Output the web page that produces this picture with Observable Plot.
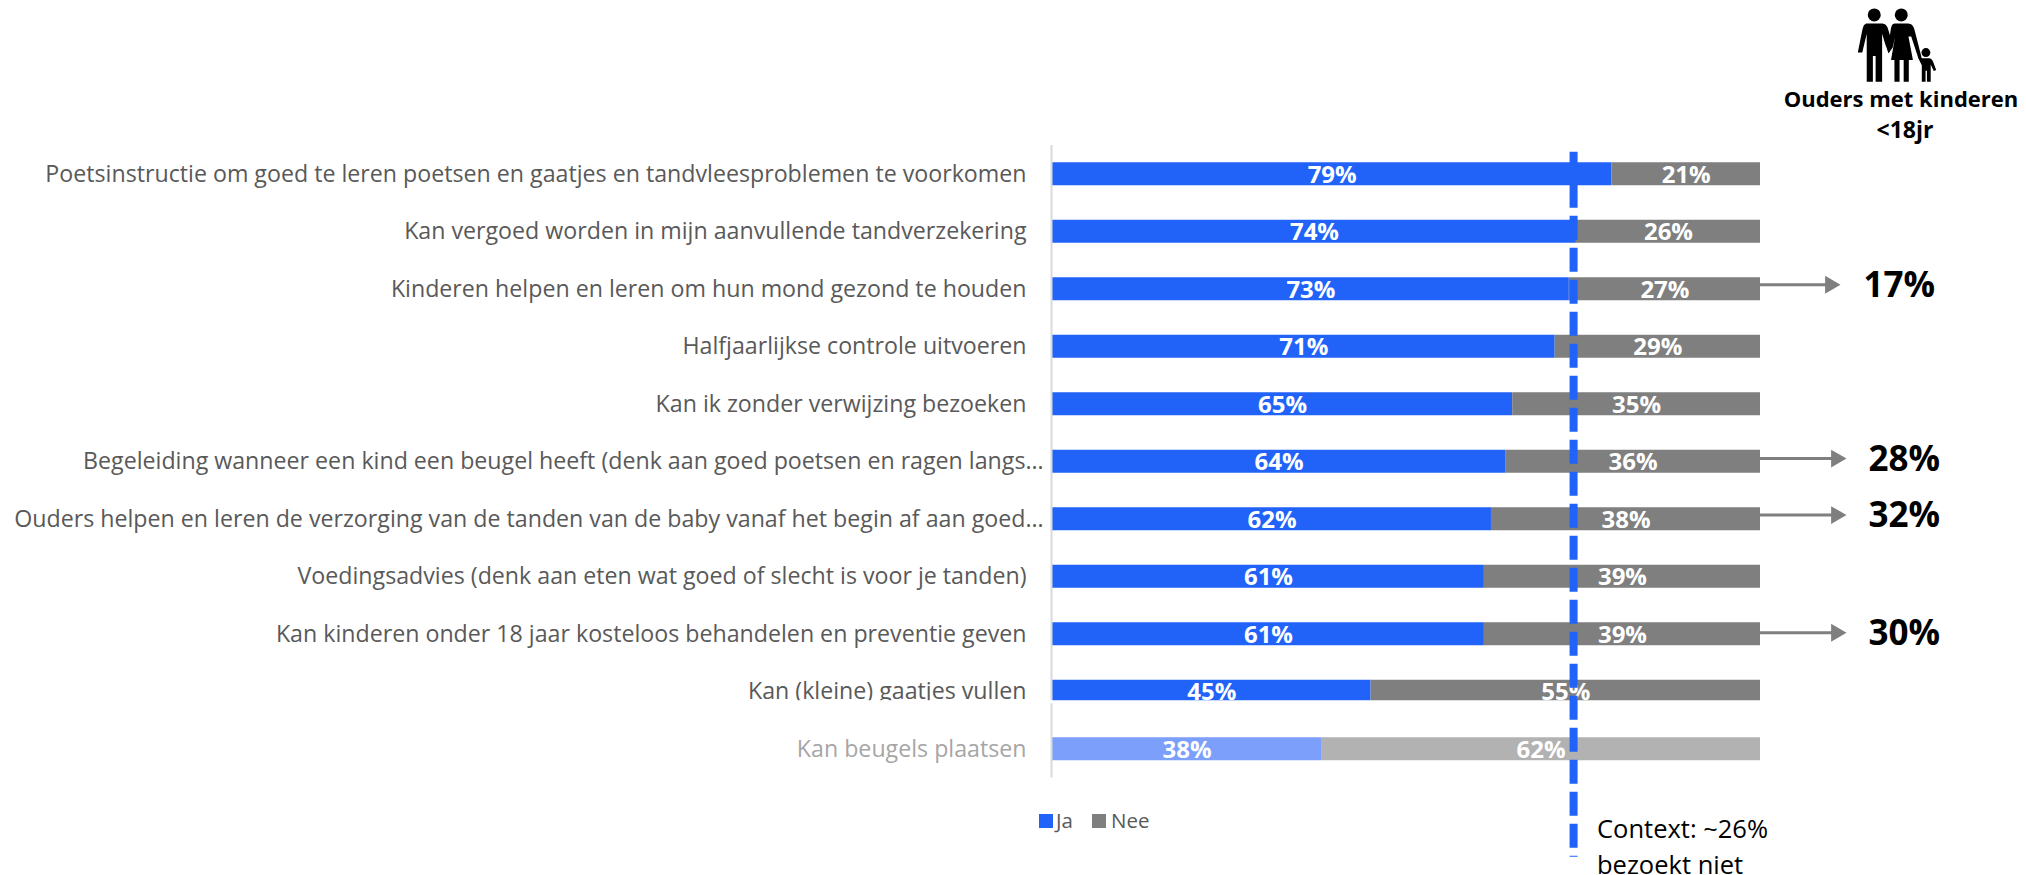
<!DOCTYPE html>
<html lang="nl">
<head>
<meta charset="utf-8">
<script src="https://cdn.jsdelivr.net/npm/d3@7"></script>
<script src="https://cdn.jsdelivr.net/npm/@observablehq/plot@0.6"></script>
<style>
  html, body { margin: 0; padding: 0; background: #fff; }
  #page { position: relative; width: 2026px; height: 875px; overflow: hidden; font-family: "Open Sans", sans-serif; }
  #chart { position: absolute; left: 0; top: 0; }
  .note { position: absolute; white-space: nowrap; }
  .head { font-weight: 700; font-size: 22px; color: #000; text-align: center; transform: translate(-50%, -50%); }
  .legend { font-size: 20.5px; color: #595959; transform: translateY(-50%); }
  .swatch { position: absolute; width: 14px; height: 14px; }
  .context { font-size: 25.5px; color: #000; transform: translateY(-50%); }
</style>
</head>
<body>
<div id="page">
  <div id="chart"></div>
  <svg class="note" style="left:1855px;top:5px" width="84" height="78" viewBox="1060 16 245 228" fill="#000" aria-hidden="true">
    <circle cx="1116" cy="45" r="19"/>
    <circle cx="1195" cy="45" r="19"/>
    <circle cx="1267" cy="155" r="13"/>
    <path d="M1095 70H1137C1148 70 1154 76 1157 88L1168 125 1158 157 1148 130 1139 100V240H1120V165H1112V240H1094V100L1081 155H1068L1081 90C1084 76 1088 70 1095 70Z"/>
    <path d="M1176 70H1214C1226 70 1231 78 1234 90L1254 168 1245 172 1224 108 1216 108 1229 177H1217V240H1202V177H1190V240H1175V177H1165L1177 108 1170 140 1158 157 1155 150 1164 90C1166 78 1168 70 1176 70Z"/>
    <path d="M1256 172H1276C1282 172 1285 176 1288 182L1297 206 1290 209 1281 190V240H1270V208H1266V240H1255V192L1244 170 1250 166Z"/>
  </svg>
  <div class="note head" style="left:1901px;top:98px">Ouders met kinderen</div>
  <div class="note head" style="left:1905px;top:128.5px;font-size:23px">&lt;18jr</div>
  <div class="swatch" style="left:1039px;top:814px;background:#2163f9"></div>
  <div class="note legend" style="left:1056px;top:819.5px">Ja</div>
  <div class="swatch" style="left:1092px;top:814px;background:#7f7f7f"></div>
  <div class="note legend" style="left:1111px;top:819.5px">Nee</div>
  <div class="note context" style="left:1597px;top:828px">Context: ~26%</div>
  <div class="note context" style="left:1597px;top:864px">bezoekt niet</div>
</div>
<script>
// Survey answers per statement: share "Ja" and share "Nee"
const statements = [
  "Poetsinstructie om goed te leren poetsen en gaatjes en tandvleesproblemen te voorkomen",
  "Kan vergoed worden in mijn aanvullende tandverzekering",
  "Kinderen helpen en leren om hun mond gezond te houden",
  "Halfjaarlijkse controle uitvoeren",
  "Kan ik zonder verwijzing bezoeken",
  "Begeleiding wanneer een kind een beugel heeft (denk aan goed poetsen en ragen langs…",
  "Ouders helpen en leren de verzorging van de tanden van de baby vanaf het begin af aan goed…",
  "Voedingsadvies (denk aan eten wat goed of slecht is voor je tanden)",
  "Kan kinderen onder 18 jaar kosteloos behandelen en preventie geven",
  "Kan (kleine) gaatjes vullen",
  "Kan beugels plaatsen"
];
const jaValues = [79, 74, 73, 71, 65, 64, 62, 61, 61, 45, 38];
const neeValues = [21, 26, 27, 29, 35, 36, 38, 39, 39, 55, 62];

// Callouts for parents with children under 18
const parentStatements = [statements[2], statements[5], statements[6], statements[8]];
const parentValues = [17, 28, 32, 30];

const mutedStatement = statements[10];
const croppedStatement = statements[9];
const contextLine = [73.6];

const BLUE = "#2163f9", GREY = "#7f7f7f";
const rows = statements.map((s, i) => ({s, ja: jaValues[i], nee: neeValues[i], muted: s === mutedStatement}));
const isLong = d => d.s.endsWith("…");

// Callout placement along the x scale and small vertical nudges per row
const calloutPlacement = [
  {head: 109.85, label: 119.6, arrowDy: -4.5, labelDy: -3.5},
  {head: 110.7, label: 120.3, arrowDy: -3.2, labelDy: -1.5},
  {head: 110.7, label: 120.3, arrowDy: -4.2, labelDy: -3.5},
  {head: 110.7, label: 120.3, arrowDy: -1.5, labelDy: 0}
];

const calloutMarks = parentStatements.flatMap((s, i) => {
  const {head, label, arrowDy, labelDy} = calloutPlacement[i];
  const row = [{s, v: parentValues[i]}];
  return [
    Plot.ruleY(row, {y: "s", x1: () => 100, x2: () => head, dy: arrowDy, stroke: GREY, strokeWidth: 3}),
    Plot.dot(row, {x: () => head, y: "s", dy: arrowDy, symbol: "triangle", rotate: 90, r: 6.6, fill: GREY, stroke: "none"}),
    Plot.text(row, {x: () => label, y: "s", dy: labelDy, text: d => d.v + "%", fill: "#000", fontSize: 35, fontWeight: 700})
  ];
});

// White strips that trim the bottom of one row, drawn under the context line
const trimStrip = (index, {x, y}) => {
  const top = y(croppedStatement) + y.bandwidth() - 2.5;
  const g = d3.create("svg:g").attr("fill", "#fff");
  g.append("rect").attr("x", 0).attr("width", x(0) - 2).attr("y", top).attr("height", 8);
  g.append("rect").attr("x", x(0) - 2).attr("width", x(100) - x(0) + 2).attr("y", top).attr("height", 3);
  return g.node();
};

const chart = Plot.plot({
  width: 2026,
  height: 875,
  marginLeft: 1052,
  marginRight: 266,
  marginTop: 145,
  marginBottom: 97.5,
  style: {background: "transparent", fontFamily: "'Open Sans', sans-serif"},
  x: {domain: [0, 100], axis: null},
  y: {domain: statements, axis: null, paddingInner: 0.6, paddingOuter: 0.3, round: false},
  marks: [
    // Category labels
    Plot.text(rows.filter(d => !isLong(d)), {
      x: () => 0, y: "s", text: "s", textAnchor: "end", dx: -26,
      fontSize: 23.2, fill: d => d.muted ? "#a6a6a6" : "#595959"
    }),
    Plot.text(rows.filter(isLong), {
      x: () => 0, y: "s", text: "s", textAnchor: "end", dx: -9,
      fontSize: 23.2, fill: "#595959"
    }),
    // Stacked bars
    Plot.barX(rows, {x1: () => 0, x2: "ja", y: "s", fill: d => d.muted ? "#7b9ffb" : BLUE}),
    Plot.barX(rows, {x1: "ja", x2: () => 100, y: "s", fill: d => d.muted ? "#b2b2b2" : GREY}),
    // Vertical axis line
    Plot.ruleX([0], {stroke: "#d9d9d9", strokeWidth: 2, dx: -1}),
    // Value labels
    Plot.text(rows, {x: d => d.ja / 2, y: "s", text: d => d.ja + "%", fill: "#fff", fontSize: 24, fontWeight: 700, dy: 1}),
    Plot.text(rows, {x: d => d.ja + d.nee / 2, y: "s", text: d => d.nee + "%", fill: "#fff", fontSize: 24, fontWeight: 700, dy: 1}),
    trimStrip,
    // Context marker
    Plot.ruleX(contextLine, {
      y1: () => statements[0], y2: () => statements[10],
      stroke: BLUE, strokeWidth: 8, strokeDasharray: "24 8", insetTop: -10.5, insetBottom: -96.5
    }),
    ...calloutMarks
  ]
});
document.getElementById("chart").append(chart);
</script>
</body>
</html>
